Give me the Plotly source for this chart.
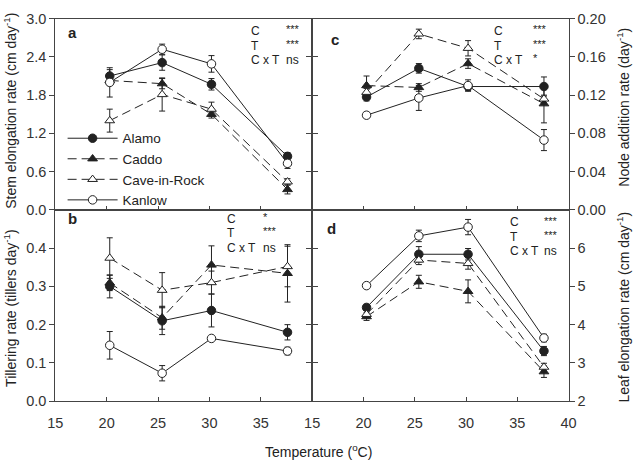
import plotly.graph_objects as go

W, H = 638, 470
FONT = "Liberation Sans, Arial, sans-serif"
INK = "#222222"

# ---------------- data ----------------
temps = [20.3, 25.4, 30.2, 37.6]
cultivars = ["Alamo", "Caddo", "Cave-in-Rock", "Kanlow"]

stem_alamo = [2.10, 2.31, 1.97, 0.84]
stem_caddo = [2.03, 1.98, 1.50, 0.32]
stem_cave = [1.40, 1.81, 1.58, 0.44]
stem_kanlow = [2.00, 2.52, 2.29, 0.73]
stem_alamo_se = [0.10, 0.12, 0.09, 0.06]
stem_caddo_se = [0.08, 0.08, 0.06, 0.07]
stem_cave_se = [0.18, 0.26, 0.11, 0.05]
stem_kanlow_se = [0.23, 0.08, 0.13, 0.08]

till_alamo = [0.300, 0.210, 0.237, 0.180]
till_caddo = [0.309, 0.218, 0.356, 0.334]
till_cave = [0.374, 0.290, 0.310, 0.352]
till_kanlow = [0.146, 0.073, 0.164, 0.131]
till_alamo_se = [0.030, 0.036, 0.043, 0.020]
till_caddo_se = [0.020, 0.030, 0.050, 0.075]
till_cave_se = [0.053, 0.046, 0.030, 0.053]
till_kanlow_se = [0.036, 0.020, 0.004, 0.010]

node_alamo = [0.118, 0.148, 0.129, 0.129]
node_caddo = [0.130, 0.128, 0.153, 0.111]
node_cave = [0.123, 0.184, 0.169, 0.116]
node_kanlow = [0.099, 0.117, 0.130, 0.073]
node_alamo_se = [0.004, 0.005, 0.004, 0.010]
node_caddo_se = [0.010, 0.004, 0.005, 0.020]
node_cave_se = [0.004, 0.005, 0.008, 0.004]
node_kanlow_se = [0.003, 0.013, 0.006, 0.011]

leaf_alamo = [4.45, 5.84, 5.84, 3.31]
leaf_caddo = [4.21, 5.12, 4.87, 2.77]
leaf_cave = [4.27, 5.69, 5.60, 2.89]
leaf_kanlow = [5.02, 6.32, 6.55, 3.65]
leaf_alamo_se = [0.08, 0.20, 0.15, 0.12]
leaf_caddo_se = [0.10, 0.17, 0.30, 0.15]
leaf_cave_se = [0.10, 0.12, 0.15, 0.10]
leaf_kanlow_se = [0.07, 0.15, 0.20, 0.10]

stats_a = [("C", "***"), ("T", "***"), ("C x T", "ns")]
stats_b = [("C", "*"), ("T", "***"), ("C x T", "ns")]
stats_c = [("C", "***"), ("T", "***"), ("C x T", "*")]
stats_d = [("C", "***"), ("T", "***"), ("C x T", "ns")]

# ---------------- styles ----------------
styles = {
    "Alamo": dict(symbol="circle", fill=INK, dash="solid"),
    "Caddo": dict(symbol="triangle-up", fill=INK, dash="9px,5px"),
    "Cave-in-Rock": dict(symbol="triangle-up", fill="white", dash="9px,5px"),
    "Kanlow": dict(symbol="circle", fill="white", dash="solid"),
}

panels = [
    ("x", "y", [stem_alamo, stem_caddo, stem_cave, stem_kanlow],
     [stem_alamo_se, stem_caddo_se, stem_cave_se, stem_kanlow_se], True),
    ("x2", "y2", [till_alamo, till_caddo, till_cave, till_kanlow],
     [till_alamo_se, till_caddo_se, till_cave_se, till_kanlow_se], False),
    ("x3", "y3", [node_alamo, node_caddo, node_cave, node_kanlow],
     [node_alamo_se, node_caddo_se, node_cave_se, node_kanlow_se], False),
    ("x4", "y4", [leaf_alamo, leaf_caddo, leaf_cave, leaf_kanlow],
     [leaf_alamo_se, leaf_caddo_se, leaf_cave_se, leaf_kanlow_se], False),
]

fig = go.Figure()
for xa, ya, series, errs, show in panels:
    for name, vals, se in zip(cultivars, series, errs):
        st = styles[name]
        fig.add_trace(go.Scatter(
            x=temps, y=vals, xaxis=xa, yaxis=ya, name=name,
            mode="lines+markers", showlegend=show, legendgroup=name,
            line=dict(color=INK, width=1, dash=st["dash"]),
            marker=dict(symbol=st["symbol"], size=8.5,
                        color=st["fill"], line=dict(color=INK, width=1)),
            error_y=dict(type="data", array=se, visible=True, color=INK,
                         thickness=1, width=3),
        ))

# ---------------- layout ----------------
def px_x(p):
    return p / W

def px_y(p):
    return 1 - p / H

xl = [px_x(48.5), px_x(312)]
xr = [px_x(312), px_x(575)]
yt = [px_y(209), px_y(11)]
yb = [px_y(407), px_y(209)]

tickfont = dict(family=FONT, size=14.5, color="#333333")
common_ax = dict(showline=True, linecolor="#444444", linewidth=1, showgrid=False,
                 zeroline=False, tickcolor="#444444", tickwidth=1, tickfont=tickfont)

fig.update_layout(
    width=W, height=H,
    margin=dict(l=0, r=0, t=0, b=0),
    paper_bgcolor="white", plot_bgcolor="white",
    font=dict(family=FONT, color=INK),
    xaxis=dict(domain=xl, anchor="y", range=[15, 40], tickvals=[20, 25, 30, 35],
               showticklabels=False, ticks="inside", ticklen=4, mirror=True, **common_ax),
    yaxis=dict(domain=yt, anchor="x", range=[0, 3.0], tickvals=[0, 0.6, 1.2, 1.8, 2.4, 3.0],
               tickformat=".1f", ticks="outside", ticklen=5, mirror="ticks", **common_ax),
    xaxis2=dict(domain=xl, anchor="y2", range=[15, 40], tickvals=[15, 20, 25, 30, 35],
                ticks="inside", ticklen=4, mirror=True, ticklabelstandoff=8, **common_ax),
    yaxis2=dict(domain=yb, anchor="x2", range=[0, 0.5], tickvals=[0, 0.1, 0.2, 0.3, 0.4],
                tickformat=".1f", ticks="outside", ticklen=5, mirror="ticks", **common_ax),
    xaxis3=dict(domain=xr, anchor="y3", range=[15, 40], tickvals=[20, 25, 30, 35],
                showticklabels=False, ticks="inside", ticklen=4, mirror=True, **common_ax),
    yaxis3=dict(domain=yt, anchor="x3", side="right", range=[0, 0.2],
                tickvals=[0, 0.04, 0.08, 0.12, 0.16, 0.20], tickformat=".2f",
                ticks="outside", ticklen=5, mirror="ticks", **common_ax),
    xaxis4=dict(domain=xr, anchor="y4", range=[15, 40], tickvals=[15, 20, 25, 30, 35, 40],
                ticks="inside", ticklen=4, mirror=True, ticklabelstandoff=8, **common_ax),
    yaxis4=dict(domain=yb, anchor="x4", side="right", range=[2, 7],
                tickvals=[2, 3, 4, 5, 6], ticks="outside", ticklen=5, mirror="ticks", **common_ax),
    legend=dict(x=px_x(56), y=px_y(119), xanchor="left", yanchor="top",
                bgcolor="rgba(0,0,0,0)", font=dict(family=FONT, size=13.5, color=INK),
                itemwidth=50, tracegroupgap=0),
)

ann = []
def text(x, y, s, size=14, bold=False, angle=0, xanchor="left"):
    ann.append(dict(x=px_x(x), y=px_y(y), xref="paper", yref="paper", text=s,
                    showarrow=False, xanchor=xanchor, yanchor="middle", textangle=angle,
                    font=dict(family=FONT, size=size, color=INK)))

# panel letters
text(59, 25, "<b>a</b>", 15)
text(59, 218, "<b>b</b>", 15)
text(329, 33, "<b>c</b>", 15)
text(325, 228, "<b>d</b>", 15)

# statistics
def stats(rows, x1, x2, y0, dy=15):
    for i, (k, v) in enumerate(rows):
        text(x1, y0 + i * dy, k, 12)
        text(x2, y0 + i * dy - (2 if "*" in v else 0), v, 11 if "*" in v else 12)

stats(stats_a, 247, 283, 24)
stats(stats_b, 223, 260, 218)
stats(stats_c, 496, 536, 24)
stats(stats_d, 513, 548, 222)

# axis titles
text(2.5, 106, "Stem elongation rate (cm day<sup>-1</sup>)", 14, angle=-90, xanchor="center")
text(2.5, 310, "Tillering rate (tillers day<sup>-1</sup>)", 14, angle=-90, xanchor="center")
text(631, 103, "Node addition rate (day<sup>-1</sup>)", 14, angle=-90, xanchor="center")
text(631, 310, "Leaf elongation rate (cm day<sup>-1</sup>)", 14, angle=-90, xanchor="center")
text(318, 459, "Temperature (<sup>o</sup>C)", 14, xanchor="center")

fig.update_layout(annotations=ann)
fig.write_html("out.html")
